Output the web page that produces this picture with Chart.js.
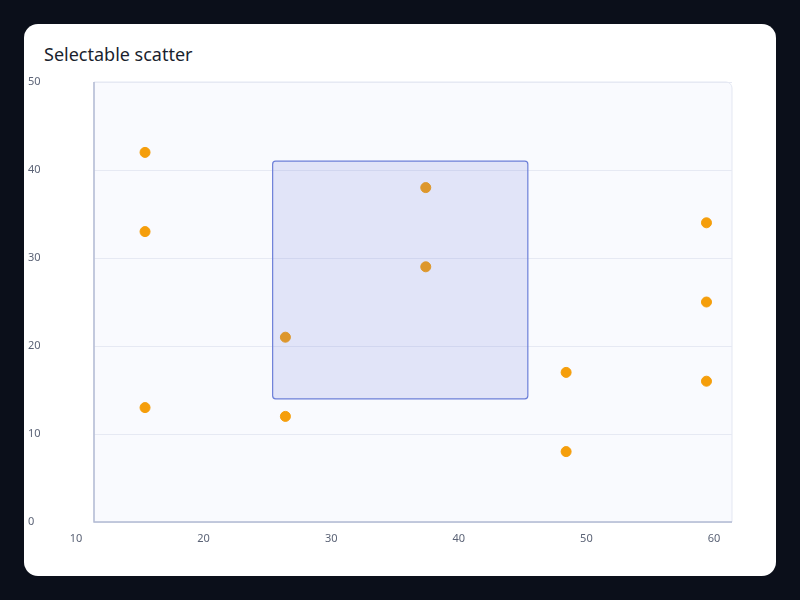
<!DOCTYPE html>
<html>
<head>
<meta charset="utf-8">
<script src="https://cdn.jsdelivr.net/npm/chart.js@4"></script>
<style>
  body { margin: 0; background: #0b0f1a; width: 800px; height: 600px; overflow: hidden; font-family: "Noto Sans", sans-serif; }
  .card { position: absolute; left: 24px; top: 24px; width: 752px; height: 552px; background: #fff; border-radius: 14px; }
  .title { position: absolute; left: 44px; top: 42px; font-size: 18px; color: #1a1f2e; }
  canvas { position: absolute; left: 0; top: 0; }
</style>
</head>
<body>
<div class="card"></div>
<div class="title">Selectable scatter</div>
<canvas id="scatter" width="800" height="600"></canvas>
<script>
// Dados dos pontos
const xValues = [14, 14, 14, 25, 25, 36, 36, 47, 47, 58, 58, 58];
const yValues = [42, 33, 13, 21, 12, 38, 29, 17, 8, 34, 25, 16];
const xTicks = [10, 20, 30, 40, 50, 60];
const yTicks = [0, 10, 20, 30, 40, 50];
// Seleção (retângulo)
const selection = { x1: 24, x2: 44, y1: 14, y2: 41 };

const points = xValues.map((x, i) => ({ x: x, y: yValues[i] }));

// Fundo da área do gráfico e eixos
const areaPlugin = {
    id: 'areaPlugin',
    beforeDraw(chart) {
        const { ctx, chartArea: a } = chart;
        ctx.save();
        ctx.fillStyle = '#f9fafe';
        ctx.strokeStyle = '#e3e7f2';
        ctx.lineWidth = 1;
        ctx.beginPath();
        ctx.roundRect(a.left, a.top, a.right - a.left, a.bottom - a.top, [0, 6, 0, 0]);
        ctx.fill();
        ctx.stroke();
        ctx.restore();
    },
    afterDatasetsDraw(chart) {
        const { ctx, chartArea: a, scales } = chart;
        ctx.save();
        // retângulo de seleção
        const l = scales.x.getPixelForValue(selection.x1);
        const r = scales.x.getPixelForValue(selection.x2);
        const t = scales.y.getPixelForValue(selection.y2);
        const b = scales.y.getPixelForValue(selection.y1);
        ctx.fillStyle = 'rgba(99, 116, 220, 0.16)';
        ctx.strokeStyle = '#6c7fd8';
        ctx.lineWidth = 1.2;
        ctx.beginPath();
        ctx.roundRect(l, t, r - l, b - t, 3);
        ctx.fill();
        ctx.stroke();
        // eixos
        ctx.strokeStyle = '#b4bcd4';
        ctx.lineWidth = 1.5;
        ctx.beginPath();
        ctx.moveTo(a.left, a.top);
        ctx.lineTo(a.left, a.bottom);
        ctx.lineTo(a.right, a.bottom);
        ctx.stroke();
        // rótulos do eixo X (deslocados como no original)
        ctx.fillStyle = '#5b6376';
        ctx.font = '11px "Noto Sans"';
        ctx.textAlign = 'center';
        ctx.textBaseline = 'top';
        xTicks.forEach(v => {
            ctx.fillText(String(v), scales.x.getPixelForValue(v) - 18, a.bottom + 11);
        });
        ctx.restore();
    }
};

new Chart(document.getElementById('scatter'), {
    type: 'scatter',
    data: {
        datasets: [{
            data: points,
            backgroundColor: '#f59e0b',
            borderColor: '#f59e0b',
            pointRadius: 5,
            pointHoverRadius: 5
        }]
    },
    options: {
        responsive: false,
        animation: false,
        layout: { padding: { left: 28, right: 68, top: 82, bottom: 48 } },
        plugins: { legend: { display: false }, tooltip: { enabled: false } },
        scales: {
            x: {
                min: 10, max: 60,
                afterFit(s) { s.height = 30; },
                grid: { display: false },
                border: { display: false },
                ticks: { display: false }
            },
            y: {
                min: 0, max: 50,
                afterBuildTicks(s) { s.ticks = yTicks.map(v => ({ value: v })); },
                afterFit(s) { s.width = 66; },
                grid: { color: '#e6e9f3', drawTicks: false },
                border: { display: false },
                ticks: {
                    color: '#5b6376',
                    font: { family: 'Noto Sans', size: 11 },
                    crossAlign: 'far',
                    padding: 8
                }
            }
        }
    },
    plugins: [areaPlugin]
});
</script>
</body>
</html>
